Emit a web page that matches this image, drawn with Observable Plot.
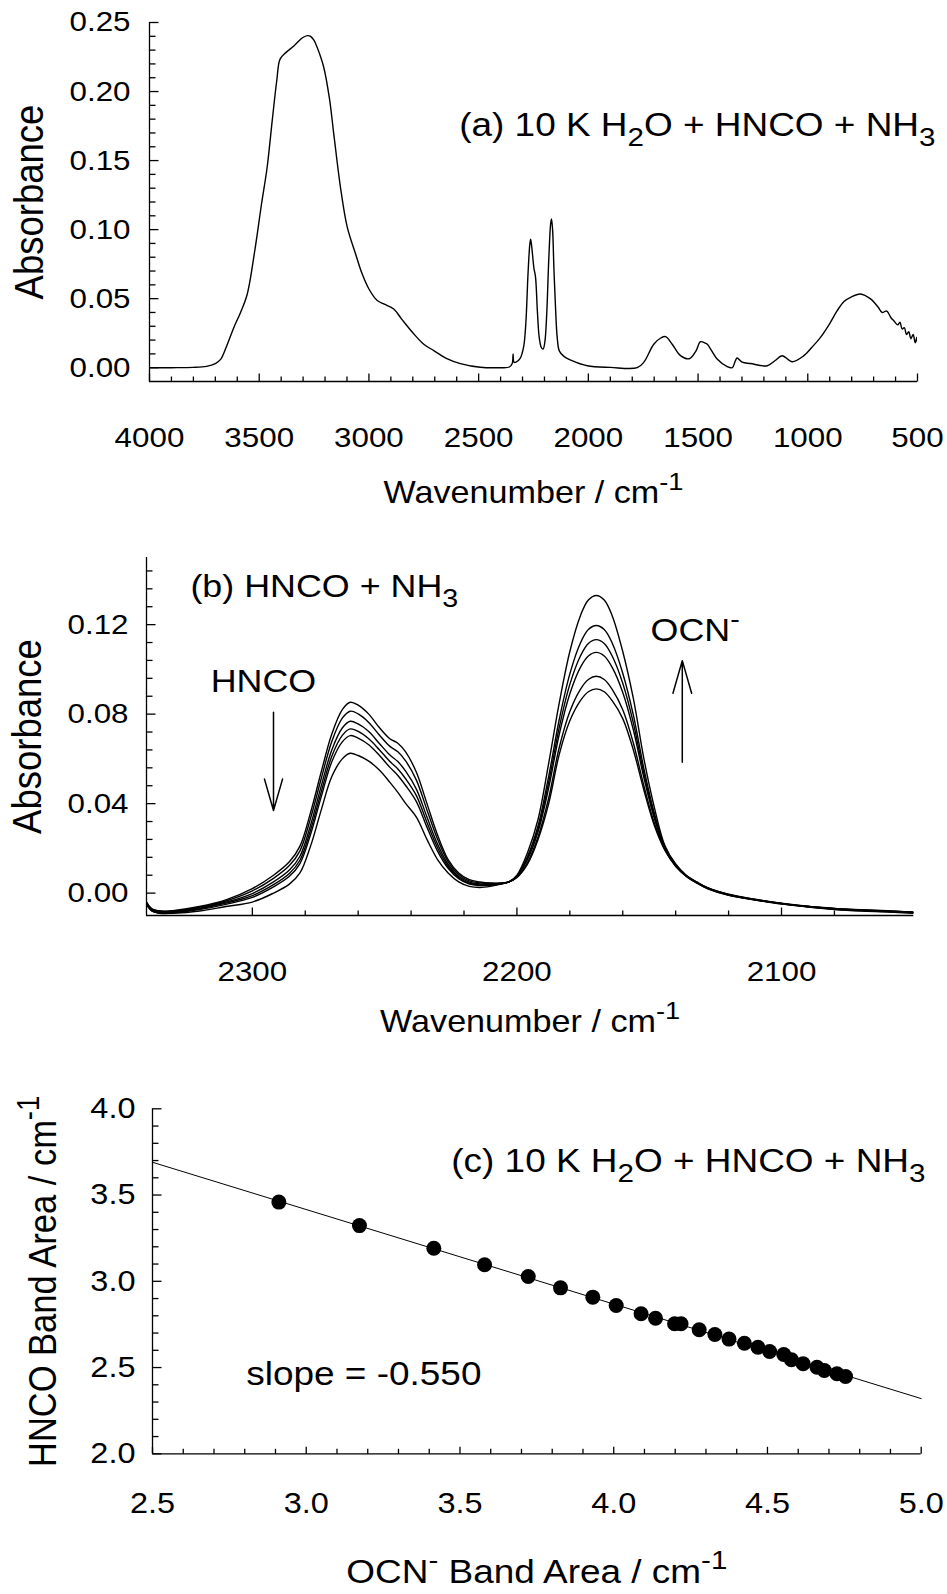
<!DOCTYPE html>
<html><head><meta charset="utf-8">
<script src="https://cdn.jsdelivr.net/npm/d3@7"></script>
<script src="https://cdn.jsdelivr.net/npm/@observablehq/plot@0.6"></script>
<style>
body{margin:0;background:#fff;}
#wrap{position:relative;width:947px;height:1594px;overflow:hidden;background:#fff;}
#wrap svg{position:absolute;left:0;}
</style>
</head><body><div id="wrap"></div>
<script>
// ---------- Panel (a): full spectrum [wavenumber, absorbance] ----------
const spectrumA = [
[4000,0.000],[3900,0.000],[3800,0.0002],[3740,0.001],[3700,0.003],[3676,0.006],[3650,0.015],[3616,0.029],
[3585,0.040],[3555,0.053],[3520,0.085],[3490,0.118],[3464,0.145],[3440,0.180],[3420,0.208],[3405,0.2235],
[3380,0.228],[3342,0.233],[3310,0.238],[3297,0.2395],[3280,0.2405],[3266,0.240],[3250,0.237],[3236,0.232],
[3206,0.2176],[3180,0.195],[3160,0.169],[3130,0.131],[3099,0.102],[3060,0.082],[3031,0.068],[3000,0.057],
[2962,0.0486],[2930,0.046],[2887,0.0425],[2850,0.035],[2795,0.0244],[2750,0.017],[2704,0.0123],[2650,0.007],
[2583,0.003],[2492,0.0003],[2400,0.000],[2360,0.0005],[2347,0.003],[2343,0.010],[2339,0.004],[2330,0.004],
[2310,0.007],[2295,0.015],[2285,0.032],[2275,0.068],[2267,0.089],[2263,0.093],[2257,0.086],[2248,0.072],
[2241,0.066],[2232,0.040],[2224,0.022],[2214,0.0145],[2206,0.0135],[2198,0.019],[2190,0.038],[2180,0.080],
[2172,0.104],[2168,0.1077],[2163,0.100],[2157,0.072],[2150,0.045],[2142,0.022],[2132,0.012],[2110,0.008],
[2080,0.0055],[2005,0.0014],[1899,0.0002],[1777,0.000],[1747,0.004],[1702,0.017],[1670,0.0215],[1648,0.0225],
[1618,0.017],[1580,0.0087],[1540,0.0065],[1510,0.012],[1489,0.0188],[1470,0.018],[1458,0.017],[1413,0.0063],
[1367,0.0007],[1344,0.000],[1330,0.005],[1322,0.007],[1299,0.004],[1261,0.003],[1185,0.0014],[1150,0.005],
[1117,0.0087],[1071,0.0043],[1018,0.0087],[980,0.015],[942,0.022],[900,0.032],[866,0.0413],[835,0.048],
[805,0.051],[760,0.0534],[714,0.0498],[680,0.044],[661,0.040],[645,0.041],[638,0.0408],[620,0.036],
[608,0.034],[590,0.031],[580,0.033],[570,0.028],[560,0.029],[550,0.024],[540,0.026],[530,0.021],
[520,0.024],[510,0.018],[503,0.022],[500,0.019]
];
const xMajorA = [4000,3500,3000,2500,2000,1500,1000,500];
const yMajorA = [0,0.05,0.10,0.15,0.20,0.25];

// ---------- Panel (b): six spectra on a common wavenumber grid ----------
const wnB = [2340,2338,2335,2330,2320,2310,2300,2292,2286,2282,2278,2274,2270,2266,2263,2260,2256,2252,2248,2245,
2242,2238,2234,2230,2226,2222,2218,2214,2210,2206,2203,2200,2196,2192,2188,2184,2180,2176,2173,2170,
2167,2164,2160,2156,2152,2148,2144,2140,2136,2132,2128,2120,2110,2100,2090,2080,2070,2060,2050];
const absB1 = [-0.004,-0.007,-0.008,-0.0078,-0.006,-0.003,0.002,0.008,0.014,0.021,0.036,0.054,0.071,0.082,0.0853,0.084,0.080,
0.074,0.069,0.067,0.063,0.054,0.040,0.026,0.015,0.009,0.006,0.005,0.0045,0.0045,0.005,0.007,0.013,0.024,0.040,0.062,0.077,
0.086,0.090,0.0913,0.090,0.086,0.078,0.064,0.046,0.030,0.019,0.012,0.0075,0.0045,0.002,-0.001,-0.003,-0.0047,-0.006,-0.007,-0.0075,-0.008,-0.0085];
const absB2 = [-0.004,-0.007,-0.008,-0.008,-0.0063,-0.0035,0.001,0.0066,0.0123,0.0189,0.0334,0.051,0.0677,0.0782,0.0813,0.0801,0.0763,
0.0707,0.0656,0.0632,0.059,0.0505,0.0372,0.0241,0.014,0.0083,0.0055,0.0046,0.0043,0.0044,0.005,0.0071,0.0137,0.0252,0.0424,0.0651,0.0812,
0.0911,0.0955,0.0969,0.0955,0.0911,0.082,0.0671,0.0479,0.0311,0.0193,0.012,0.0076,0.0046,0.002,-0.0008,-0.0029,-0.0046,-0.0059,-0.0069,-0.0076,-0.0081,-0.0084];
const absB3 = [-0.0045,-0.0075,-0.0085,-0.0083,-0.0067,-0.0041,-0.0002,0.005,0.0103,0.0165,0.0304,0.0477,0.0639,0.0738,0.0768,0.0756,0.0722,
0.0669,0.0617,0.0588,0.0544,0.0465,0.034,0.0219,0.0128,0.0075,0.0049,0.0041,0.0039,0.0043,0.005,0.0074,0.015,0.0275,0.047,0.071,0.0891,
0.1009,0.106,0.1076,0.106,0.1009,0.0897,0.073,0.0515,0.0331,0.0198,0.0124,0.0077,0.0047,0.0022,-0.0009,-0.0031,-0.0048,-0.0061,-0.0071,-0.0074,-0.0079,-0.0086];
const absB4 = [-0.0048,-0.0078,-0.0088,-0.0085,-0.007,-0.0045,-0.0011,0.0038,0.0088,0.0147,0.0282,0.0451,0.0611,0.0705,0.0734,0.0723,0.069,
0.0641,0.0588,0.0555,0.051,0.0436,0.0316,0.0203,0.0119,0.0069,0.0044,0.0037,0.0037,0.0042,0.005,0.0075,0.0156,0.0287,0.0495,0.0741,0.0933,
0.106,0.1116,0.1133,0.1116,0.106,0.0938,0.0761,0.0534,0.0342,0.0201,0.0125,0.0078,0.0048,0.0023,-0.0007,-0.0028,-0.0045,-0.0058,-0.0068,-0.0077,-0.0082,-0.0087];
const absB5 = [-0.0048,-0.0078,-0.0088,-0.0087,-0.0073,-0.005,-0.0019,0.0028,0.0075,0.0132,0.0262,0.0429,0.0586,0.0676,0.0704,0.0693,0.0663,
0.0616,0.0562,0.0526,0.048,0.0409,0.0295,0.0188,0.0111,0.0064,0.004,0.0034,0.0035,0.0042,0.005,0.0077,0.0164,0.0301,0.0522,0.0776,0.098,
0.1118,0.1178,0.1196,0.1178,0.1118,0.0983,0.0796,0.0555,0.0354,0.0204,0.0127,0.0078,0.0048,0.0024,-0.0006,-0.003,-0.0049,-0.006,-0.0072,-0.0078,-0.0083,-0.0088];
const absB6 = [-0.005,-0.008,-0.009,-0.009,-0.008,-0.006,-0.004,0.000,0.004,0.009,0.021,0.037,0.052,0.060,0.0625,0.0615,0.059,
0.055,0.0495,0.045,0.040,0.034,0.024,0.015,0.009,0.005,0.003,0.0025,0.003,0.004,0.005,0.008,0.018,0.033,0.058,0.085,0.108,
0.124,0.131,0.133,0.131,0.124,0.108,0.087,0.060,0.038,0.021,0.013,0.008,0.005,0.0025,-0.0005,-0.0027,-0.0046,-0.0062,-0.0073,-0.008,-0.0084,-0.009];
const xMajorB = [2300,2200,2100];
const yMajorB = [0,0.04,0.08,0.12];
// annotation arrows (data coordinates)
const arrowsB = [
  {x1: 2292, y1: 0.0808, x2: 2292, y2: 0.0369},
  {x1: 2137.5, y1: 0.0585, x2: 2137.5, y2: 0.1039}
];

// ---------- Panel (c): band areas ----------
const ocnArea = [2.911,3.173,3.415,3.580,3.722,3.827,3.932,4.008,4.089,4.136,4.198,4.219,4.278,4.329,4.375,4.425,4.469,4.507,4.553,4.578,4.616,4.661,4.685,4.726,4.754];
const hncoArea = [3.459,3.323,3.192,3.096,3.028,2.962,2.908,2.860,2.812,2.786,2.754,2.754,2.719,2.692,2.665,2.641,2.618,2.593,2.576,2.545,2.522,2.502,2.483,2.464,2.448];
const fitOcn = [2.5, 5.0];
const fitHnco = [3.69, 2.32];
const xMajorC = [2.5,3.0,3.5,4.0,4.5,5.0];
const yMajorC = [2.0,2.5,3.0,3.5,4.0];

// ---------- helpers ----------
const FONT = "'Liberation Sans', Arial, Helvetica, sans-serif";
const STRETCH = 1.12; // the reference lettering is slightly wide
const hTick = len => ({draw(ctx){ ctx.moveTo(0,0); ctx.lineTo(len,0); }});
const vTick = len => ({draw(ctx){ ctx.moveTo(0,0); ctx.lineTo(0,-len); }});
const near = (v, arr, eps) => arr.some(a => Math.abs(a - v) < eps);
function minors(start, stop, step, majors){
  const n = Math.round((stop - start) / step);
  const out = [];
  for (let i = 0; i <= n; i++){ const v = +(start + i*step).toFixed(6); if (!near(v, majors, step/10)) out.push(v); }
  return out;
}
function ticksMarks({xMajor, xMinor, yMajor, yMinor, x0, y0, xLen=[8,5], yLen=[9,6]}){
  const st = {fill: "none", stroke: "#000", strokeWidth: 1.3, r: 1};
  return [
    Plot.dot(xMajor, {...st, x: d => d, y: y0, symbol: vTick(xLen[0])}),
    Plot.dot(xMinor, {...st, x: d => d, y: y0, symbol: vTick(xLen[1])}),
    Plot.dot(yMajor, {...st, x: x0, y: d => d, symbol: hTick(yLen[0])}),
    Plot.dot(yMinor, {...st, x: x0, y: d => d, symbol: hTick(yLen[1])}),
    Plot.ruleX([x0], {stroke: "#000", strokeWidth: 1.3}),
    Plot.ruleY([y0], {stroke: "#000", strokeWidth: 1.3})
  ];
}
function rich(root){
  const NS = "http://www.w3.org/2000/svg";
  root.querySelectorAll("text").forEach(t => {
    const s = t.textContent;
    if (/[_^]\{/.test(s)) {
      const parts = []; const re = /([_^])\{([^}]*)\}/g; let last = 0, m;
      while ((m = re.exec(s))) { if (m.index > last) parts.push({t: s.slice(last, m.index)}); parts.push({t: m[2], k: m[1]}); last = re.lastIndex; }
      if (last < s.length) parts.push({t: s.slice(last)});
      while (t.firstChild) t.removeChild(t.firstChild);
      let shift = 0;
      for (const p of parts){
        const ts = document.createElementNS(NS, "tspan");
        const target = p.k === "_" ? 0.30 : p.k === "^" ? -0.42 : 0;
        const size = p.k ? 0.8 : 1;
        const d = target - shift;
        if (d) ts.setAttribute("dy", (d / size).toFixed(3) + "em");
        if (p.k) ts.setAttribute("font-size", "80%");
        ts.textContent = p.t;
        t.appendChild(ts);
        shift = target;
      }
    }
    const tr = t.getAttribute("transform");
    if (tr) t.setAttribute("transform", tr + (tr.includes("rotate") ? ` scale(1,${STRETCH})` : ` scale(${STRETCH},1)`));
  });
}
const wrap = document.getElementById("wrap");
function place(svg, top){ svg.style.top = top + "px"; wrap.appendChild(svg); rich(svg); }

// ---------- Panel (a) ----------
const plotA = Plot.plot({
  width: 947, height: 520, marginLeft: 149, marginRight: 30, marginTop: 22, marginBottom: 139,
  style: {fontFamily: FONT, fontSize: "28px", color: "#000", background: "transparent"},
  x: {domain: [4000, 500]},
  y: {domain: [-0.01, 0.25]},
  marks: [
    ...ticksMarks({xMajor: xMajorA, xMinor: minors(500, 4000, 100, xMajorA), yMajor: yMajorA, yMinor: minors(0, 0.25, 0.01, yMajorA), x0: 4000, y0: -0.01, xLen: [8,5], yLen: [9,6]}),
    Plot.axisX(xMajorA, {anchor: "bottom", tickSize: 0, tickPadding: 46, tickFormat: d => String(d), fontSize: 28, label: null}),
    Plot.axisY(yMajorA, {anchor: "left", tickSize: 0, tickPadding: 19, tickFormat: d3.format(".2f"), fontSize: 28, label: null}),
    Plot.line(spectrumA, {x: d => d[0], y: d => d[1], stroke: "#000", strokeWidth: 1.4, curve: "catmull-rom", clip: true}),
    Plot.text(["(a) 10 K H_{2}O + HNCO + NH_{3}"], {x: 418, y: 0.168, textAnchor: "end", lineAnchor: "bottom", fontSize: 33}),
    Plot.text(["Absorbance"], {frameAnchor: "left", dx: -107, rotate: -90, textAnchor: "middle", lineAnchor: "bottom", fontSize: 36.5}),
    Plot.text(["Wavenumber / cm^{-1}"], {frameAnchor: "bottom", dy: 121, textAnchor: "middle", lineAnchor: "bottom", fontSize: 30.5})
  ]
});
place(plotA, 0);

// ---------- Panel (b) ----------
const seriesB = [absB1, absB2, absB3, absB4, absB5, absB6].flatMap((arr, k) => arr.map((v, i) => ({wn: wnB[i], a: v, s: k})));
const plotB = Plot.plot({
  width: 947, height: 520, marginLeft: 146, marginRight: 33.7, marginTop: 37, marginBottom: 125,
  style: {fontFamily: FONT, fontSize: "28px", color: "#000", background: "transparent"},
  x: {domain: [2340, 2050]},
  y: {domain: [-0.01, 0.15]},
  marks: [
    ...ticksMarks({xMajor: xMajorB, xMinor: minors(2080, 2280, 20, xMajorB), yMajor: yMajorB, yMinor: minors(0, 0.144, 0.008, yMajorB), x0: 2340, y0: -0.01, xLen: [8,5], yLen: [9,6]}),
    Plot.axisX(xMajorB, {anchor: "bottom", tickSize: 0, tickPadding: 46, tickFormat: d => String(d), fontSize: 28, label: null}),
    Plot.axisY(yMajorB, {anchor: "left", tickSize: 0, tickPadding: 18, tickFormat: d3.format(".2f"), fontSize: 28, label: null}),
    Plot.line(seriesB, {x: "wn", y: "a", z: "s", stroke: "#000", strokeWidth: 1.4, curve: "catmull-rom", clip: true}),
    Plot.arrow(arrowsB, {x1: "x1", y1: "y1", x2: "x2", y2: "y2", stroke: "#000", strokeWidth: 1.5, headLength: 34, headAngle: 32}),
    Plot.text(["(b) HNCO + NH_{3}"], {x: 2323.4, y: 0.1322, textAnchor: "start", lineAnchor: "bottom", fontSize: 32}),
    Plot.text(["HNCO"], {x: 2295.8, y: 0.0898, textAnchor: "middle", lineAnchor: "bottom", fontSize: 32}),
    Plot.text(["OCN^{-}"], {x: 2149.5, y: 0.1125, textAnchor: "start", lineAnchor: "bottom", fontSize: 32}),
    Plot.text(["Absorbance"], {frameAnchor: "left", dx: -106, rotate: -90, textAnchor: "middle", lineAnchor: "bottom", fontSize: 36.5}),
    Plot.text(["Wavenumber / cm^{-1}"], {frameAnchor: "bottom", dy: 116, textAnchor: "middle", lineAnchor: "bottom", fontSize: 30.5})
  ]
});
place(plotB, 520);

// ---------- Panel (c) ----------
const pointsC = ocnArea.map((x, i) => ({x, y: hncoArea[i]}));
const fitC = fitOcn.map((x, i) => ({x, y: fitHnco[i]}));
const plotC = Plot.plot({
  width: 947, height: 554, marginLeft: 152, marginRight: 26.3, marginTop: 68.3, marginBottom: 140.7,
  style: {fontFamily: FONT, fontSize: "29px", color: "#000", background: "transparent"},
  x: {domain: [2.5, 5.0]},
  y: {domain: [2.0, 4.0]},
  marks: [
    ...ticksMarks({xMajor: xMajorC, xMinor: minors(2.5, 5.0, 0.1, xMajorC), yMajor: yMajorC, yMinor: minors(2.0, 4.0, 0.1, yMajorC), x0: 2.5, y0: 2.0, xLen: [7,5], yLen: [9,6]}),
    Plot.axisX(xMajorC, {anchor: "bottom", tickSize: 0, tickPadding: 39, tickFormat: d3.format(".1f"), fontSize: 29, label: null}),
    Plot.axisY(yMajorC, {anchor: "left", tickSize: 0, tickPadding: 17, tickFormat: d3.format(".1f"), fontSize: 29, label: null}),
    Plot.line(fitC, {x: "x", y: "y", stroke: "#000", strokeWidth: 1}),
    Plot.dot(pointsC, {x: "x", y: "y", r: 7.5, fill: "#000", stroke: "none"}),
    Plot.text(["(c) 10 K H_{2}O + HNCO + NH_{3}"], {x: 5.014, y: 3.632, textAnchor: "end", lineAnchor: "bottom", fontSize: 33}),
    Plot.text(["slope = -0.550"], {x: 2.805, y: 2.396, textAnchor: "start", lineAnchor: "bottom", fontSize: 33}),
    Plot.text(["HNCO Band Area / cm^{-1}"], {frameAnchor: "left", dx: -97, rotate: -90, textAnchor: "middle", lineAnchor: "bottom", fontSize: 34.5}),
    Plot.text(["OCN^{-} Band Area / cm^{-1}"], {frameAnchor: "bottom", dy: 129, textAnchor: "middle", lineAnchor: "bottom", fontSize: 33})
  ]
});
place(plotC, 1040);
</script>
</body></html>
